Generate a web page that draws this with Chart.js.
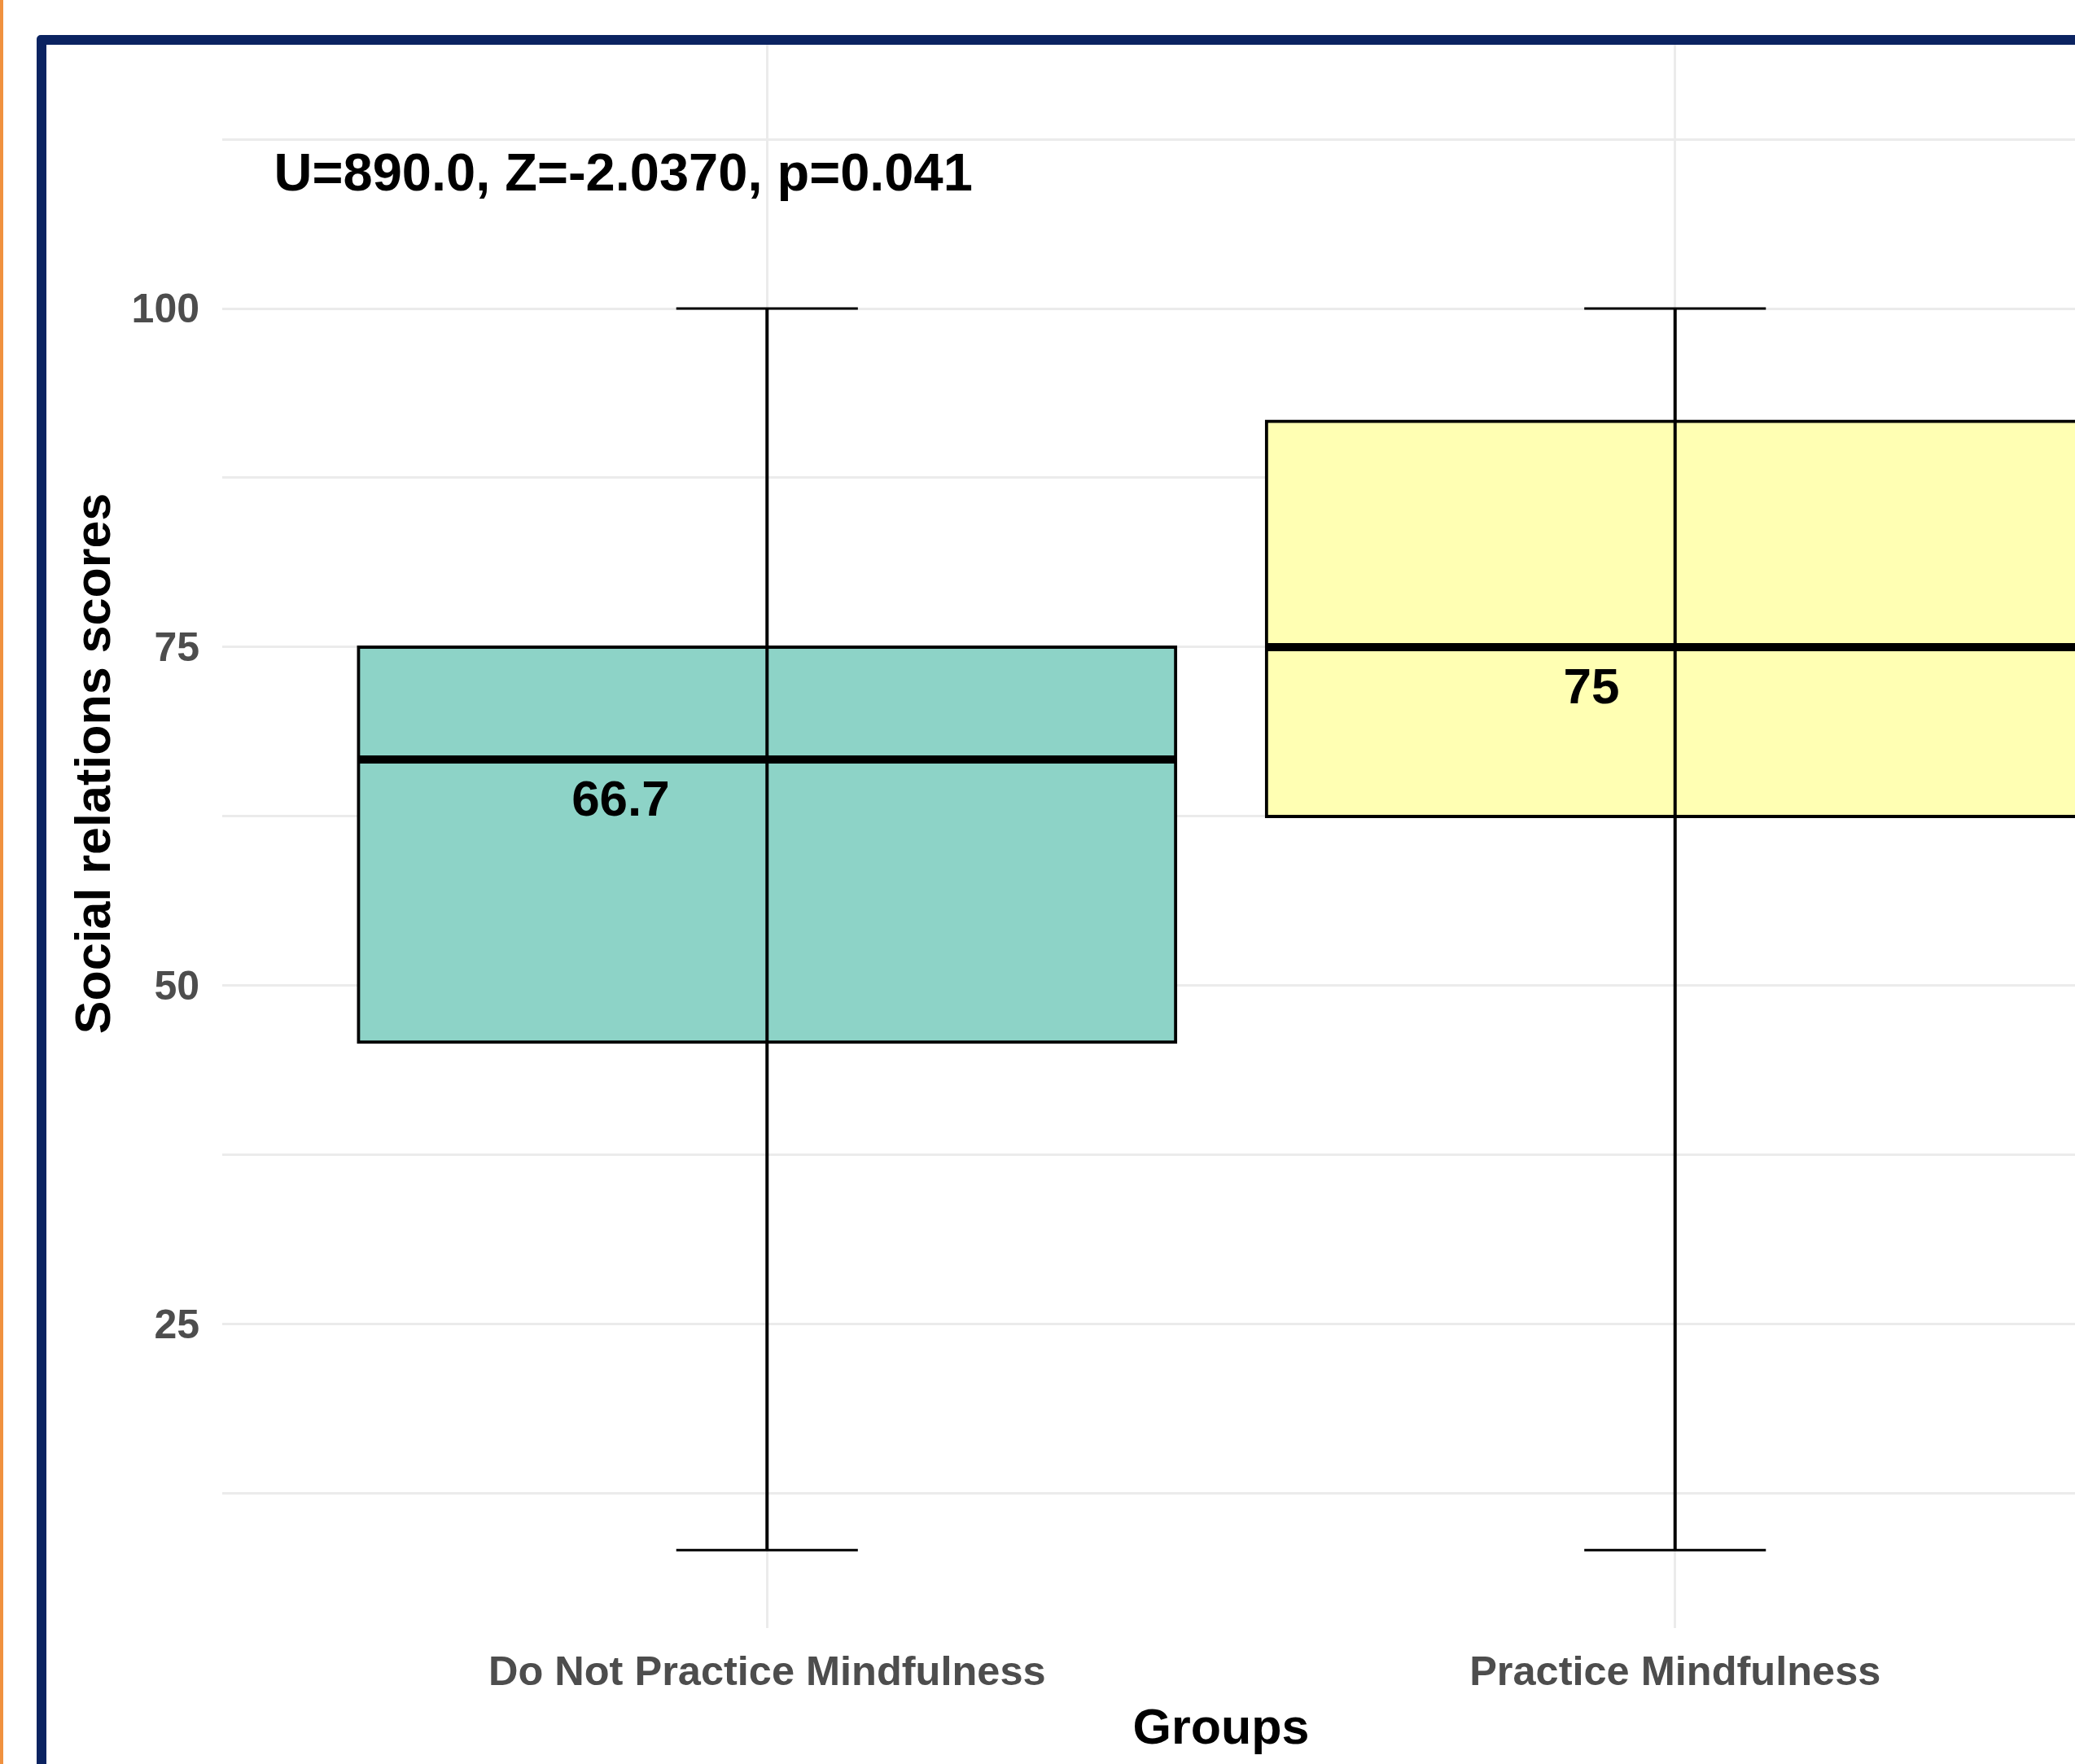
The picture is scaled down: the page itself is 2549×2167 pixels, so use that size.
<!DOCTYPE html>
<html>
<head>
<meta charset="utf-8">
<script src="https://cdn.jsdelivr.net/npm/chart.js@4.4.1/dist/chart.umd.min.js"></script>
<style>
  html, body { margin: 0; padding: 0; background: #fff; overflow: hidden; width: 2549px; height: 2167px; position: relative; }
  #plotWrap { position: absolute; left: 0; top: -204px; width: 2760px; height: 2371px; }
  #topMask { position: absolute; left: 0; top: 0; width: 2549px; height: 43px; background: #fff; z-index: 2; }
  #frame { position: absolute; left: 45px; top: 43px; width: 3000px; height: 3000px; box-sizing: border-box;
           border: 12px solid #0B2361; border-radius: 5px; z-index: 2; pointer-events: none; }
  #stripe { position: absolute; left: 0; top: 0; width: 4px; height: 2167px; background: #F0913F; z-index: 3; }
</style>
</head>
<body>
<div id="plotWrap"><canvas id="chart" width="2760" height="2371"></canvas></div>
<div id="topMask"></div>
<div id="frame"></div>
<div id="stripe"></div>
<script>
// Box-plot summary for each group (social relations domain scores)
const groups = ['Do Not Practice Mindfulness', 'Practice Mindfulness'];
const lowerWhisker = [8.33, 8.33];
const q1Values = [45.83, 62.5];
const medianValues = [66.7, 75];
const q3Values = [75, 91.67];
const upperWhisker = [100, 100];
const boxFills = ['#8DD3C7', '#FFFFB3'];

// Axis breaks
const yMajorTicks = [25, 50, 75, 100, 125];
const yMinorTicks = [12.5, 37.5, 62.5, 87.5, 112.5];

// Test statistics shown inside the panel
const statsLabel = 'U=890.0, Z=-2.0370, p=0.041';

// Layout / style constants
const FONT = '"Liberation Sans", Arial, Helvetica, sans-serif';
const yAxisMin = 2.58, yAxisMax = 130.23;
const xAxisMin = 0.4, xAxisMax = 2.6;
const boxHalf = 0.45;      // half box width in x units
const capHalf = 0.1;       // half whisker-cap width in x units
const statsX = 0.457, statsY = 109.8;

function segment(points, width, order) {
  return {
    type: 'line', data: points, borderColor: '#000', borderWidth: width,
    pointRadius: 0, pointHoverRadius: 0, fill: false, tension: 0,
    borderCapStyle: 'butt', order: order
  };
}

const datasets = [];
groups.forEach((g, i) => {
  const cx = i + 1;
  datasets.push(segment([{x: cx - boxHalf, y: medianValues[i]}, {x: cx + boxHalf, y: medianValues[i]}], 10, 0));
  datasets.push(segment([{x: cx, y: lowerWhisker[i]}, {x: cx, y: upperWhisker[i]}], 4, 1));
  datasets.push(segment([{x: cx - capHalf, y: upperWhisker[i]}, {x: cx + capHalf, y: upperWhisker[i]}], 3, 1));
  datasets.push(segment([{x: cx - capHalf, y: lowerWhisker[i]}, {x: cx + capHalf, y: lowerWhisker[i]}], 3, 1));
});
datasets.push({
  type: 'bar',
  data: groups.map((g, i) => ({x: i + 1, y: [q1Values[i], q3Values[i]]})),
  backgroundColor: boxFills,
  borderColor: '#000',
  borderWidth: 4,
  borderSkipped: false,
  inflateAmount: 2,
  barPercentage: 0.9,
  categoryPercentage: 1.0,
  order: 2
});

// Median values and the test statistics are written as text on the plot
const textLabels = {
  id: 'textLabels',
  afterDatasetsDraw(chart) {
    const {ctx, scales: {x, y}} = chart;
    ctx.save();
    ctx.fillStyle = '#000';
    ctx.textBaseline = 'middle';
    ctx.textAlign = 'center';
    ctx.font = 'bold 62px ' + FONT;
    medianValues.forEach((m, i) => {
      const txt = String(m);
      const w = ctx.measureText(txt).width;
      ctx.fillText(txt, x.getPixelForValue(i + 1) - 1.49 * w, y.getPixelForValue(m) + 52);
    });
    ctx.font = 'bold 65px ' + FONT;
    ctx.textAlign = 'left';
    ctx.fillText(statsLabel, x.getPixelForValue(statsX), y.getPixelForValue(statsY));
    ctx.restore();
  }
};

new Chart(document.getElementById('chart'), {
  type: 'bar',
  data: { datasets },
  plugins: [textLabels],
  options: {
    responsive: false,
    devicePixelRatio: 1,
    animation: false,
    events: [],
    layout: { padding: { left: 0, top: 80, right: 33, bottom: 0 } },
    plugins: { legend: { display: false }, tooltip: { enabled: false } },
    scales: {
      x: {
        type: 'linear', min: xAxisMin, max: xAxisMax, offset: false, bounds: 'data',
        afterBuildTicks: s => { s.ticks = groups.map((g, i) => ({value: i + 1})); },
        afterFit: s => { s.height = 167; },
        ticks: {
          callback: v => groups[v - 1] ?? '',
          color: '#4D4D4D', padding: 26, maxRotation: 0, minRotation: 0, autoSkip: false,
          font: { family: FONT, size: 50.5, weight: 'bold', lineHeight: 1.2 }
        },
        grid: { color: '#EBEBEB', lineWidth: 3, drawTicks: false, offset: false },
        border: { display: false },
        title: {
          display: true, text: 'Groups', color: '#000',
          font: { family: FONT, size: 61, weight: 'bold', lineHeight: 1.2 },
          padding: { top: 0, bottom: 5.5 }
        }
      },
      y: {
        type: 'linear', min: yAxisMin, max: yAxisMax, beginAtZero: false, bounds: 'data',
        afterBuildTicks: s => {
          s.ticks = [...yMinorTicks, ...yMajorTicks].sort((a, b) => a - b).map(v => ({value: v}));
        },
        afterFit: s => { s.width = 273; },
        ticks: {
          callback: v => yMajorTicks.includes(v) ? String(v) : '',
          color: '#4D4D4D', padding: 28, labelOffset: 3, autoSkip: false,
          font: { family: FONT, size: 50, weight: 'bold', lineHeight: 1.2 }
        },
        grid: { color: '#EBEBEB', lineWidth: 3, drawTicks: false },
        border: { display: false },
        title: {
          display: true, text: 'Social relations scores', color: '#000',
          font: { family: FONT, size: 61, weight: 'bold', lineHeight: 1.2 },
          padding: { top: 82, bottom: 0 }
        }
      }
    }
  }
});
</script>
</body>
</html>
